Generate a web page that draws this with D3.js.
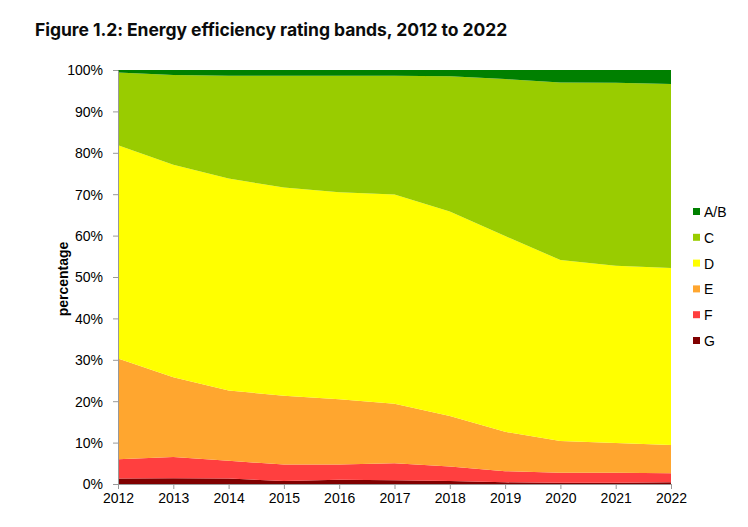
<!DOCTYPE html>
<html><head><meta charset="utf-8">
<script src="https://cdn.jsdelivr.net/npm/d3@7/dist/d3.min.js"></script>
<style>
body{margin:0;background:#fff;}
svg{display:block;}
</style></head>
<body>
<svg id="c" width="748" height="527"></svg>
<script>
const years = [2012,2013,2014,2015,2016,2017,2018,2019,2020,2021,2022];
const bandG  = [1.3,1.4,1.3,0.7,1.0,0.9,0.7,0.4,0.3,0.3,0.4];
const bandF  = [4.7,5.1,4.3,4.0,3.7,4.1,3.5,2.7,2.4,2.4,2.2];
const bandE  = [24.3,19.3,17.0,16.6,15.8,14.4,12.2,9.5,7.7,7.2,6.8];
const bandD  = [51.5,51.3,51.2,50.3,50.0,50.5,49.4,47.3,43.7,42.8,42.8];
const bandC  = [17.6,21.7,24.8,27.0,28.1,28.7,32.7,37.9,42.9,44.2,44.4];
const bandAB = [0.6,1.2,1.4,1.4,1.4,1.4,1.5,2.2,3.0,3.1,3.4];
const seriesNames = ["G","F","E","D","C","A/B"];
const seriesColors = ["#800000","#ff3f3f","#ffa62f","#ffff00","#99cc00","#008000"];
const yTicks = [0,10,20,30,40,50,60,70,80,90,100];

const svg = d3.select("#c");
const L=118, R=671, T=70, B=484;
const x = d3.scaleLinear().domain([2012,2022]).range([L,R]);
const y = d3.scaleLinear().domain([0,100]).range([B,T]);

const table = years.map((yr,i)=>({year:yr,"G":bandG[i],"F":bandF[i],"E":bandE[i],"D":bandD[i],"C":bandC[i],"A/B":bandAB[i]}));
const stack = d3.stack().keys(seriesNames).offset(d3.stackOffsetExpand);
const layers = stack(table);
const area = d3.area().x(d=>x(d.data.year)).y0(d=>y(d[0]*100)).y1(d=>y(d[1]*100));

svg.append("g").selectAll("path").data(layers).join("path")
  .attr("d",area).attr("fill",(d,i)=>seriesColors[i]);

const FONT = "Liberation Sans, Arial, sans-serif";
// y axis
const ya = svg.append("g").attr("transform",`translate(${L},0)`)
  .call(d3.axisLeft(y).tickValues(yTicks).tickFormat(d=>d+"%").tickSize(5).tickSizeOuter(0));
ya.select(".domain").attr("stroke","#999");
ya.selectAll(".tick line").attr("stroke","#999");
ya.selectAll("text").attr("font-family",FONT).attr("font-size","14px").attr("fill","#000").attr("x",-15).attr("dy","0.35em");

// x axis
const xa = svg.append("g").attr("transform",`translate(0,${B})`)
  .call(d3.axisBottom(x).tickValues(years).tickFormat(d3.format("d")).tickSize(5).tickSizeOuter(0));
xa.select(".domain").attr("stroke","#999");
xa.selectAll(".tick line").attr("stroke","#999");
xa.selectAll("text").attr("font-family",FONT).attr("font-size","14px").attr("fill","#000").attr("y",9).attr("dy","0.71em");

// title
svg.append("text").attr("x",35).attr("y",36)
  .attr("font-family","Inter, Noto Sans, sans-serif").attr("font-weight","700").attr("font-size","17.5px")
  .attr("fill","#0b0c0c").attr("letter-spacing","-0.05px").text("Figure 1.2: Energy efficiency rating bands, 2012 to 2022");

// y label
svg.append("text").attr("transform","translate(68,279) rotate(-90)").attr("text-anchor","middle")
  .attr("font-family",FONT).attr("font-weight","700").attr("font-size","14px")
  .text("percentage");

// legend
const legOrder = seriesNames.slice().reverse();
const leg = svg.append("g");
legOrder.forEach((n,i)=>{
  const idx = seriesNames.indexOf(n);
  const yy = 212 + i*25.8;
  leg.append("rect").attr("x",693).attr("y",yy-4).attr("width",7).attr("height",7).attr("fill",seriesColors[idx]);
  leg.append("text").attr("x",704).attr("y",yy+5).attr("font-family",FONT)
    .attr("font-size","14px").text(n);
});
</script>
</body></html>
